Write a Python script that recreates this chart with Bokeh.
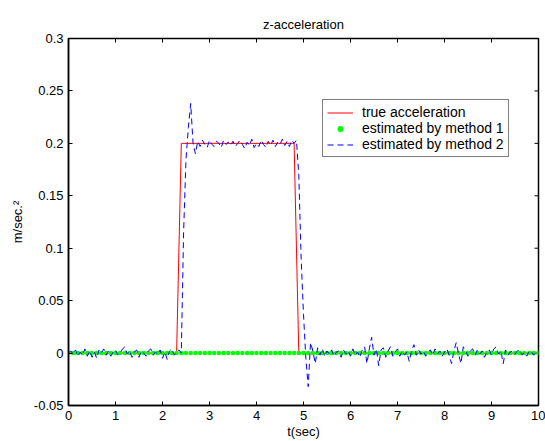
import numpy as np
from bokeh.plotting import figure
from bokeh.models import FixedTicker, CustomJSTickFormatter, Range1d
from bokeh.embed import file_html
from bokeh.resources import INLINE

# ---------------- data ----------------
title_text = "z-acceleration"
x_label = "t(sec)"
y_label = "m/sec.²"
x_ticks = [0, 1, 2, 3, 4, 5, 6, 7, 8, 9, 10]
y_ticks = [-0.05, 0.0, 0.05, 0.1, 0.15, 0.2, 0.25, 0.3]
x_min, x_max = 0.0, 10.0
y_min, y_max = -0.05, 0.3

# true acceleration (step pulse)
t_true = [0.0, 2.3, 2.4, 4.8, 4.9, 10.0]
a_true = [0.0, 0.0, 0.2, 0.2, 0.0, 0.0]

# method 1 estimate, sampled every 0.1 s (read as 0 everywhere)
t_est1 = np.linspace(0.0, 10.0, 101)
a_est1 = [
    0.0, 0.0, 0.0, 0.0, 0.0, 0.0, 0.0, 0.0, 0.0, 0.0,
    0.0, 0.0, 0.0, 0.0, 0.0, 0.0, 0.0, 0.0, 0.0, 0.0,
    0.0, 0.0, 0.0, 0.0, 0.0, 0.0, 0.0, 0.0, 0.0, 0.0,
    0.0, 0.0, 0.0, 0.0, 0.0, 0.0, 0.0, 0.0, 0.0, 0.0,
    0.0, 0.0, 0.0, 0.0, 0.0, 0.0, 0.0, 0.0, 0.0, 0.0,
    0.0, 0.0, 0.0, 0.0, 0.0, 0.0, 0.0, 0.0, 0.0, 0.0,
    0.0, 0.0, 0.0, 0.0, 0.0, 0.0, 0.0, 0.0, 0.0, 0.0,
    0.0, 0.0, 0.0, 0.0, 0.0, 0.0, 0.0, 0.0, 0.0, 0.0,
    0.0, 0.0, 0.0, 0.0, 0.0, 0.0, 0.0, 0.0, 0.0, 0.0,
    0.0, 0.0, 0.0, 0.0, 0.0, 0.0, 0.0, 0.0, 0.0, 0.0,
    0.0,
]

t_est2 = np.linspace(0.0, 10.0, 201)
a_est2 = [
    0.000, 0.002, -0.001, 0.003, -0.003, 0.001, -0.002, 0.004, -0.003, 0.002,   # 0.00-0.45
    -0.004, 0.001, -0.005, 0.003, 0.000, 0.004, -0.002, 0.002, -0.003, 0.001,   # 0.50-0.95
    0.003, -0.002, 0.000, 0.004, 0.006, -0.001, 0.002, -0.004, 0.001, 0.003,    # 1.00-1.45
    -0.004, 0.002, 0.000, -0.003, 0.002, 0.004, -0.002, 0.001, -0.001, 0.003,   # 1.50-1.95
    -0.005, 0.001, -0.006, 0.002, 0.004, -0.002, 0.001, 0.003, 0.000, 0.117,    # 2.00-2.45
    0.185, 0.215, 0.238, 0.200, 0.190, 0.202, 0.197, 0.203, 0.199, 0.196,       # 2.50-2.95
    0.203, 0.199, 0.197, 0.202, 0.200, 0.196, 0.203, 0.199, 0.201, 0.198,       # 3.00-3.45
    0.202, 0.197, 0.200, 0.203, 0.199, 0.195, 0.201, 0.198, 0.204, 0.196,       # 3.50-3.95
    0.200, 0.197, 0.203, 0.199, 0.196, 0.202, 0.198, 0.203, 0.197, 0.201,       # 4.00-4.45
    0.199, 0.204, 0.198, 0.202, 0.197, 0.203, 0.200, 0.203, 0.170, 0.090,       # 4.50-4.95
    0.037, -0.005, -0.032, 0.010, 0.002, -0.010, 0.005, -0.002, 0.004, -0.003,  # 5.00-5.45
    0.002, -0.001, 0.003, -0.003, 0.001, 0.002, -0.004, 0.003, -0.001, 0.002,   # 5.50-5.95
    -0.003, 0.004, -0.002, 0.001, -0.004, 0.003, 0.006, -0.010, 0.004, 0.015,   # 6.00-6.45
    -0.002, 0.004, -0.012, 0.003, 0.005, -0.004, 0.002, 0.006, -0.003, 0.001,   # 6.50-6.95
    0.004, -0.003, 0.002, -0.002, 0.001, -0.008, 0.002, 0.008, -0.002, 0.003,   # 7.00-7.45
    -0.001, 0.002, -0.003, 0.001, 0.003, -0.002, 0.004, -0.001, 0.002, -0.003,  # 7.50-7.95
    0.001, 0.004, -0.002, -0.010, 0.002, 0.010, -0.001, -0.010, 0.006, 0.002,   # 8.00-8.45
    -0.003, 0.002, 0.004, -0.002, 0.003, -0.001, 0.002, -0.004, 0.001, 0.003,   # 8.50-8.95
    -0.002, 0.004, 0.006, -0.001, 0.002, -0.010, 0.003, -0.002, 0.001, 0.002,   # 9.00-9.45
    -0.001, 0.002, 0.003, -0.002, 0.001, -0.003, 0.002, 0.001, -0.002, 0.001,   # 9.50-9.95
    0.000,                                                                       # 10.00
]

FONT = "Liberation Sans"
W, H = 545, 441
B_LEFT, B_RIGHT, B_TOP, B_BOTTOM = 68, 7, 38, 36
TICK_PX = 4

p = figure(
    output_backend="svg",
    toolbar_location=None,
    width=W,
    height=H,
    min_border_left=B_LEFT,
    min_border_right=B_RIGHT,
    min_border_top=B_TOP,
    min_border_bottom=B_BOTTOM,
    x_range=Range1d(x_min, x_max),
    y_range=Range1d(y_min, y_max),
    title=title_text,
)
p.background_fill_color = "white"
p.border_fill_color = "white"
p.outline_line_color = "black"
p.outline_line_width = 1.5
p.grid.visible = False

p.title.align = "center"
p.title.text_font = FONT
p.title.text_font_size = "13px"
p.title.text_font_style = "normal"
p.title.text_color = "black"
p.title.standoff = 13

yfmt = CustomJSTickFormatter(code="""
var s = tick.toFixed(2);
s = s.replace(/0+$/, '');
s = s.replace(/\\.$/, '');
if (s === '-0') { s = '0'; }
return s;
""")

for ax in p.xaxis:
    ax.ticker = FixedTicker(ticks=x_ticks)
    ax.axis_label = x_label
for ax in p.yaxis:
    ax.ticker = FixedTicker(ticks=y_ticks)
    ax.formatter = yfmt
    ax.axis_label = y_label

for ax in list(p.xaxis) + list(p.yaxis):
    ax.major_tick_in = TICK_PX
    ax.major_tick_out = 0
    ax.minor_tick_in = 0
    ax.minor_tick_out = 0
    ax.axis_line_color = "black"
    ax.axis_line_width = 1.5
    ax.major_tick_line_color = "black"
    ax.major_label_text_font = FONT
    ax.major_label_text_font_size = "13px"
    ax.major_label_text_color = "black"
    ax.axis_label_text_font = FONT
    ax.axis_label_text_font_size = "13px"
    ax.axis_label_text_font_style = "normal"
    ax.axis_label_text_color = "black"
p.xaxis.major_label_standoff = 5
p.xaxis.axis_label_standoff = 1
p.yaxis.major_label_standoff = 5
p.yaxis.axis_label_standoff = 6

# mirrored inward tick marks on the top and right edges of the box
frame_w = W - B_LEFT - B_RIGHT
frame_h = H - B_TOP - B_BOTTOM
dy = TICK_PX * (y_max - y_min) / frame_h
dx = TICK_PX * (x_max - x_min) / frame_w
p.segment(x0=x_ticks, y0=[y_max] * len(x_ticks), x1=x_ticks, y1=[y_max - dy] * len(x_ticks),
          line_color="black", line_width=1)
p.segment(x0=[x_max] * len(y_ticks), y0=y_ticks, x1=[x_max - dx] * len(y_ticks), y1=y_ticks,
          line_color="black", line_width=1)

# series
p.line(t_true, a_true, line_color="#ff0000", line_width=1, legend_label="true acceleration")
p.scatter(t_est1, a_est1, marker="circle", size=4.5, fill_color="#00ff00", line_color=None,
          legend_label="estimated by method 1")
p.line(t_est2, a_est2, line_color="#0000ff", line_width=1, line_dash="6 4",
       legend_label="estimated by method 2")

lg = p.legend[0]
lg.location = (254, 248)
lg.border_line_color = "black"
lg.border_line_width = 1.5
lg.background_fill_color = "white"
lg.background_fill_alpha = 1.0
lg.label_text_font = FONT
lg.label_text_font_size = "14px"
lg.label_text_color = "black"
lg.padding = 4
lg.spacing = 0
lg.margin = 0
lg.glyph_width = 26
lg.glyph_height = 15
lg.label_height = 15
lg.label_standoff = 9

open("out.html", "w").write(file_html(p, INLINE))
